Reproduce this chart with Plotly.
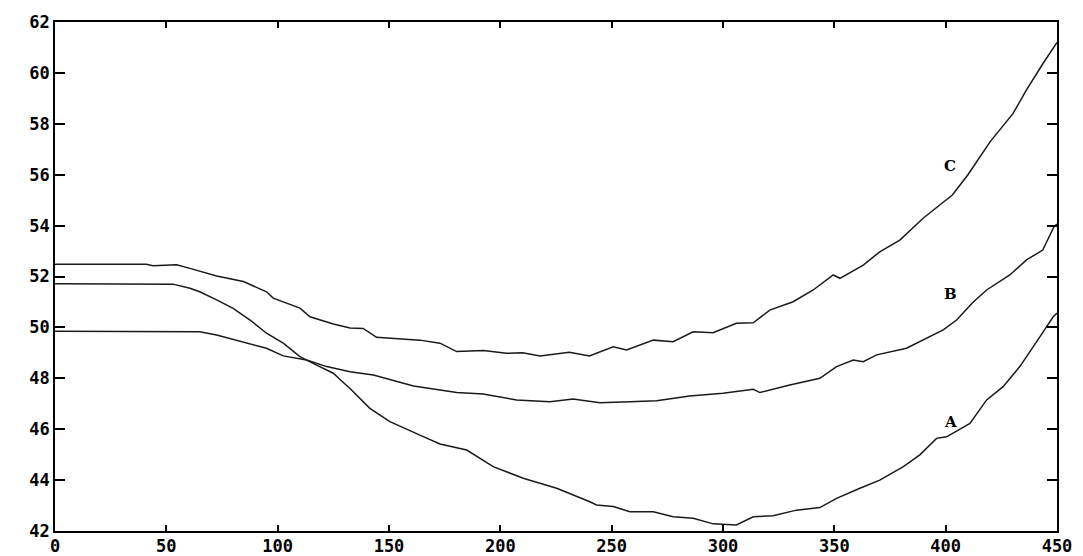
import plotly.graph_objects as go

# Series A
a_x = [0, 53, 60.6, 65, 72.6, 80, 87.6, 95, 102.5, 110, 117.5, 125, 128, 132.5, 141.4, 150.4,
       165.4, 172.9, 184.9, 196.8, 210.3, 225.3, 240.2, 243.2, 250.7, 258.2, 268.7, 277.6,
       286.6, 295.6, 306, 313.6, 322.5, 333, 343.5, 351, 361.5, 370.4, 381, 388.4, 395.9,
       400.4, 410.9, 418.4, 425.8, 433.3, 442.3, 448.3, 450]
a_y = [51.72, 51.7, 51.54, 51.4, 51.08, 50.75, 50.29, 49.77, 49.38, 48.85, 48.52, 48.2, 47.95,
       47.6, 46.82, 46.3, 45.71, 45.42, 45.18, 44.53, 44.07, 43.68, 43.15, 43.02, 42.96, 42.76,
       42.76, 42.56, 42.5, 42.28, 42.24, 42.56, 42.6, 42.82, 42.92, 43.28, 43.68, 44.0, 44.53,
       44.99, 45.64, 45.7, 46.23, 47.15, 47.67, 48.46, 49.63, 50.42, 50.56]

# Series B
b_x = [0, 65, 72.6, 80, 95, 102.5, 113, 122, 132.5, 143, 161, 180.4, 192.3, 207.3, 222.3, 232.7,
       244.7, 258.2, 270.2, 285, 300, 313.6, 316.6, 330, 343.5, 351, 358.5, 363, 369, 382.4,
       388.4, 398.9, 404.9, 412.4, 418.4, 428.8, 436.3, 443.6, 448.6, 450]
b_y = [49.85, 49.83, 49.7, 49.53, 49.18, 48.88, 48.72, 48.46, 48.26, 48.13, 47.7, 47.44, 47.38,
       47.15, 47.08, 47.19, 47.04, 47.08, 47.12, 47.3, 47.41, 47.57, 47.44, 47.74, 48.0, 48.46,
       48.72, 48.65, 48.92, 49.18, 49.44, 49.9, 50.29, 51.0, 51.47, 52.06, 52.65, 53.04, 53.95,
       54.06]

# Series C
c_x = [0, 41, 44, 54.6, 60.6, 72.6, 84.6, 95, 98, 110, 114.5, 125, 132.5, 138.4, 144.4, 150.4,
       163.9, 172.9, 180.4, 192.3, 202.8, 210, 217.8, 231, 240, 250.7, 256.7, 268.7, 277.6,
       286.6, 295.6, 306, 313.6, 321, 331.5, 340.5, 349.5, 352.5, 363, 370.4, 379.4, 390, 403,
       410, 420, 430.3, 436.3, 443.8, 450]
c_y = [52.48, 52.48, 52.42, 52.46, 52.32, 52.02, 51.8, 51.4, 51.15, 50.76, 50.42, 50.13, 49.98,
       49.96, 49.61, 49.57, 49.5, 49.38, 49.05, 49.09, 48.98, 49.0, 48.88, 49.02, 48.88, 49.24,
       49.11, 49.5, 49.44, 49.83, 49.79, 50.16, 50.18, 50.68, 51.01, 51.47, 52.06, 51.93, 52.45,
       52.97, 53.43, 54.3, 55.2, 56.0, 57.3, 58.41, 59.33, 60.38, 61.2]

labels = ["A", "B", "C"]
label_x = [402, 402, 402]
label_y = [46.28, 51.31, 56.34]

x_ticks = [0, 50, 100, 150, 200, 250, 300, 350, 400, 450]
y_ticks = [42, 44, 46, 48, 50, 52, 54, 56, 58, 60, 62]

fig = go.Figure()
for xs, ys, name in [(a_x, a_y, "A"), (b_x, b_y, "B"), (c_x, c_y, "C")]:
    fig.add_trace(go.Scatter(x=xs, y=ys, mode="lines", name=name,
                             line=dict(color="#1a1a1a", width=1.5)))

for t, lx, ly in zip(labels, label_x, label_y):
    fig.add_annotation(x=lx, y=ly, text=t, showarrow=False,
                       font=dict(family="DejaVu Serif", size=15, color="black", weight="bold"))

tickfont = dict(family="DejaVu Sans Mono", size=17, color="black", weight="bold")
fig.update_layout(
    width=1083, height=556,
    margin=dict(l=55, r=26, t=22, b=25),
    paper_bgcolor="white", plot_bgcolor="white",
    showlegend=False,
    xaxis=dict(range=[0, 450], tickvals=x_ticks, ticktext=[str(v) for v in x_ticks],
               showgrid=False, zeroline=False, showline=True, linecolor="black", linewidth=1.6,
               mirror="ticks", ticks="inside", ticklen=6, tickwidth=1.5, tickcolor="black",
               tickfont=tickfont, automargin=False, ticklabelstandoff=-1),
    yaxis=dict(range=[42, 62], tickvals=y_ticks, ticktext=[str(v) for v in y_ticks],
               showgrid=False, zeroline=False, showline=True, linecolor="black", linewidth=1.6,
               mirror="ticks", ticks="inside", ticklen=10, tickwidth=1.5, tickcolor="black",
               tickfont=tickfont, automargin=False),
)

fig.write_html("out.html")
